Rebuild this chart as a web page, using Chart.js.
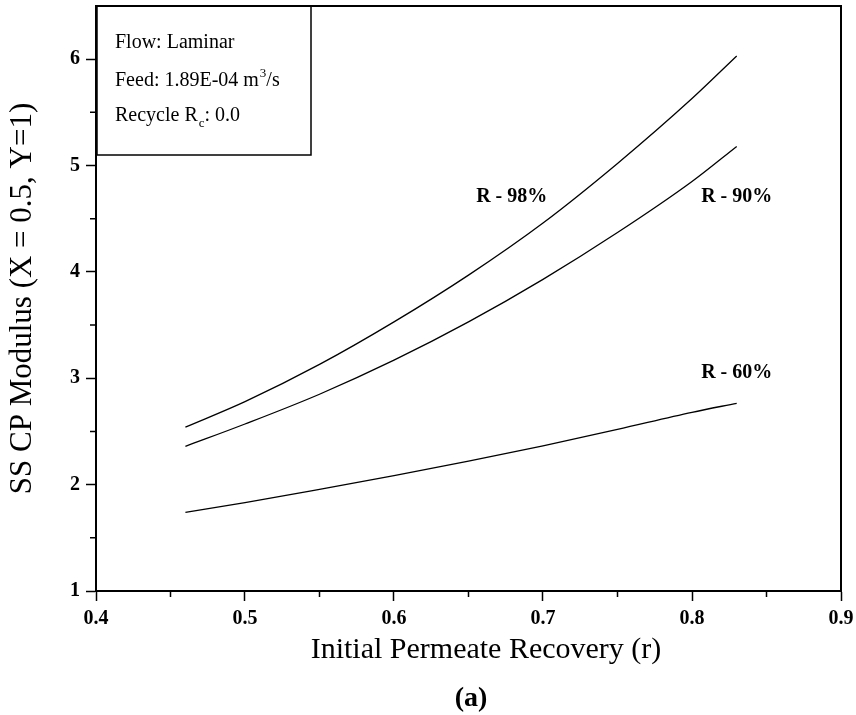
<!DOCTYPE html>
<html>
<head>
<meta charset="utf-8">
<title>SS CP Modulus</title>
<script src="https://cdn.jsdelivr.net/npm/chart.js@4.4.0/dist/chart.umd.min.js"></script>
<style>
    body { margin: 0; background: #fff; }
</style>
</head>
<body>
<canvas id="cpChart" width="856" height="715"></canvas>
<script>
// values
const recovery = [0.46, 0.5, 0.55, 0.6, 0.65, 0.7, 0.75, 0.8, 0.83];
const r98 = [2.54, 2.78, 3.13, 3.53, 3.97, 4.46, 5.02, 5.63, 6.03];
const r90 = [2.36, 2.57, 2.85, 3.17, 3.53, 3.93, 4.37, 4.85, 5.18];
const r60 = [1.74, 1.83, 1.955, 2.085, 2.22, 2.365, 2.52, 2.68, 2.765];

const curveNames = ["R - 98%", "R - 90%", "R - 60%"];
const nameX = [0.679, 0.83, 0.83];
const nameY = [4.71, 4.71, 3.05];

const xMinor = [0.45, 0.55, 0.65, 0.75, 0.85];
const yMinor = [1.5, 2.5, 3.5, 4.5, 5.5];

const serif = "'Liberation Serif', 'Times New Roman', serif";

function toPoints(ys) {
    const pts = [];
    for (let i = 0; i < recovery.length; i++) {
        pts.push({ x: recovery[i], y: ys[i] });
    }
    return pts;
}

function curve(ys) {
    return {
        data: toPoints(ys),
        showLine: true,
        borderColor: "#000",
        borderWidth: 1.3,
        pointRadius: 0,
        cubicInterpolationMode: "monotone"
    };
}

// frame, minor ticks, info box and all the loose text
const extras = {
    id: "extras",
    afterDraw(chart) {
        const ctx = chart.ctx;
        const area = chart.chartArea;
        const xs = chart.scales.x;
        const ys = chart.scales.y;
        ctx.save();
        ctx.strokeStyle = "#000";
        ctx.fillStyle = "#000";

        // top and right side of the frame
        ctx.lineWidth = 2;
        ctx.beginPath();
        ctx.moveTo(area.left, area.top);
        ctx.lineTo(area.right, area.top);
        ctx.lineTo(area.right, area.bottom);
        ctx.stroke();

        // minor ticks
        ctx.lineWidth = 1.5;
        ctx.beginPath();
        xMinor.forEach(v => {
            const px = xs.getPixelForValue(v);
            ctx.moveTo(px, area.bottom);
            ctx.lineTo(px, area.bottom + 6);
        });
        yMinor.forEach(v => {
            const py = ys.getPixelForValue(v);
            ctx.moveTo(area.left, py);
            ctx.lineTo(area.left - 6, py);
        });
        ctx.stroke();

        // info box
        const bx = area.left + 1;
        const bw = 214;
        const bh = 149;
        ctx.lineWidth = 1.5;
        ctx.strokeRect(bx, area.top, bw, bh);

        ctx.font = "20px " + serif;
        ctx.textAlign = "left";
        ctx.textBaseline = "alphabetic";
        const tx = bx + 18;
        ctx.fillText("Flow: Laminar", tx, area.top + 42);

        let s = "Feed: 1.89E-04 m";
        ctx.fillText(s, tx, area.top + 80);
        let w = ctx.measureText(s).width;
        ctx.font = "13px " + serif;
        ctx.fillText("3", tx + w + 1, area.top + 71);
        w += ctx.measureText("3").width + 1;
        ctx.font = "20px " + serif;
        ctx.fillText("/s", tx + w, area.top + 80);

        s = "Recycle R";
        ctx.fillText(s, tx, area.top + 115);
        w = ctx.measureText(s).width;
        ctx.font = "13px " + serif;
        ctx.fillText("c", tx + w + 1, area.top + 121);
        w += ctx.measureText("c").width + 1;
        ctx.font = "20px " + serif;
        ctx.fillText(": 0.0", tx + w, area.top + 115);

        // curve names
        ctx.font = "bold 20px " + serif;
        ctx.textAlign = "center";
        ctx.textBaseline = "middle";
        for (let i = 0; i < curveNames.length; i++) {
            ctx.fillText(curveNames[i], xs.getPixelForValue(nameX[i]), ys.getPixelForValue(nameY[i]));
        }

        // x axis title and panel letter
        ctx.textBaseline = "alphabetic";
        ctx.font = "30px " + serif;
        ctx.fillText("Initial Permeate Recovery (r)", 486, area.bottom + 67);
        ctx.font = "bold 28px " + serif;
        ctx.fillText("(a)", 471, area.bottom + 115);
        ctx.restore();
    }
};

new Chart(document.getElementById("cpChart"), {
    type: "scatter",
    data: {
        datasets: [curve(r98), curve(r90), curve(r60)]
    },
    plugins: [extras],
    options: {
        responsive: false,
        animation: false,
        layout: { padding: { top: 6, right: 15, left: 0, bottom: 0 } },
        plugins: {
            legend: { display: false },
            tooltip: { enabled: false }
        },
        scales: {
            x: {
                type: "linear",
                min: 0.4,
                max: 0.9,
                afterFit: scale => {
                    scale.height = 124;
                    scale.paddingLeft = 0;
                    scale.paddingRight = 0;
                },
                border: { display: true, color: "#000", width: 2 },
                grid: { drawOnChartArea: false, drawTicks: true, tickLength: 10, color: "#000", tickWidth: 1.5 },
                ticks: {
                    stepSize: 0.1,
                    color: "#000",
                    padding: 6,
                    maxRotation: 0,
                    font: { family: serif, size: 20, weight: "bold" },
                    callback: v => v.toFixed(1)
                }
            },
            y: {
                min: 1,
                max: 6.5,
                afterFit: scale => {
                    scale.width = 96;
                    scale.paddingTop = 0;
                    scale.paddingBottom = 0;
                },
                border: { display: true, color: "#000", width: 2 },
                grid: { drawOnChartArea: false, drawTicks: true, tickLength: 10, color: "#000", tickWidth: 1.5 },
                ticks: {
                    stepSize: 1,
                    includeBounds: false,
                    color: "#000",
                    padding: 6,
                    font: { family: serif, size: 20, weight: "bold" }
                },
                title: {
                    display: true,
                    text: "SS CP Modulus (X = 0.5, Y=1)",
                    color: "#000",
                    font: { family: serif, size: 31 },
                    padding: { top: 4, bottom: 0 }
                }
            }
        }
    }
});
</script>
</body>
</html>
